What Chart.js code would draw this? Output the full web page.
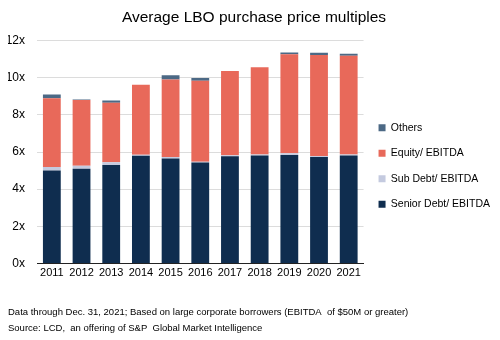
<!DOCTYPE html>
<html>
<head>
<meta charset="utf-8">
<script src="https://cdn.jsdelivr.net/npm/chart.js@4/dist/chart.umd.min.js"></script>
<style>
  html, body { margin: 0; padding: 0; background: #fff; }
  #wrap { width: 500px; height: 340px; position: relative; }
</style>
</head>
<body>
<div id="wrap"><canvas id="chart" width="500" height="340"></canvas></div>
<script>
const years = ['2011', '2012', '2013', '2014', '2015', '2016', '2017', '2018', '2019', '2020', '2021'];
const seniorDebt = [5.0, 5.1, 5.3, 5.8, 5.65, 5.43, 5.77, 5.81, 5.84, 5.73, 5.81];
const subDebt = [0.2, 0.16, 0.15, 0.05, 0.08, 0.05, 0.05, 0.05, 0.09, 0.05, 0.05];
const equity = [3.69, 3.54, 3.21, 3.77, 4.18, 4.36, 4.54, 4.71, 5.34, 5.44, 5.32];
const others = [0.21, 0.03, 0.12, 0, 0.23, 0.14, 0, 0, 0.09, 0.12, 0.11];
const yTicks = [0, 2, 4, 6, 8, 10, 12];

const sans = "'Liberation Sans', Arial, sans-serif";

const bar = (label, data, color) => ({
    label: label,
    data: data,
    backgroundColor: color,
    borderWidth: 0,
    categoryPercentage: 1,
    barPercentage: 0.6
});

// nudge the legend block up a little so it sits where the original has it
const legendNudge = {
    id: 'legendNudge',
    afterLayout: (chart) => {
        chart.legend.top -= 4;
        chart.legend.bottom -= 4;
    }
};

new Chart(document.getElementById('chart'), {
    type: 'bar',
    data: {
        labels: years,
        datasets: [
            bar('Senior Debt/ EBITDA', seniorDebt, '#0f2d4f'),
            bar('Sub Debt/ EBITDA', subDebt, '#c4cadf'),
            bar('Equity/ EBITDA', equity, '#e8695a'),
            bar('Others', others, '#4c6985')
        ]
    },
    plugins: [legendNudge],
    options: {
        responsive: false,
        animation: false,
        layout: { padding: { left: 8, right: 0, top: 4, bottom: 4 } },
        plugins: {
            title: {
                display: true,
                text: 'Average LBO purchase price multiples',
                color: '#000',
                font: { family: sans, size: 15.5, weight: 'normal' },
                padding: { top: 4, bottom: 14 }
            },
            subtitle: {
                display: true,
                position: 'bottom',
                align: 'start',
                text: [
                    'Data through Dec. 31, 2021; Based on large corporate borrowers (EBITDA  of $50M or greater)',
                    'Source: LCD,  an offering of S&P  Global Market Intelligence'
                ],
                color: '#000',
                font: { family: sans, size: 9.5, lineHeight: 1.65 },
                padding: { top: 22, bottom: 0 }
            },
            legend: {
                position: 'right',
                align: 'center',
                reverse: true,
                maxWidth: 160,
                labels: {
                    boxWidth: 7,
                    boxHeight: 7,
                    padding: 15,
                    color: '#000',
                    font: { family: sans, size: 10.5 }
                }
            },
            tooltip: { enabled: false }
        },
        scales: {
            x: {
                stacked: true,
                grid: { display: false, drawTicks: false },
                border: { color: '#222', width: 1 },
                ticks: {
                    color: '#000',
                    padding: 3,
                    maxRotation: 0,
                    autoSkip: false,
                    font: { family: sans, size: 11 }
                }
            },
            y: {
                stacked: true,
                min: 0,
                max: 12,
                afterBuildTicks: (axis) => { axis.ticks = yTicks.map(v => ({ value: v })); },
                afterFit: (axis) => { axis.width = 29; },
                grid: { color: '#dcdcdc', drawTicks: false },
                border: { display: false },
                ticks: {
                    color: '#000',
                    padding: 12,
                    font: { family: sans, size: 12 },
                    callback: (v) => v + 'x'
                }
            }
        }
    }
});
</script>
</body>
</html>
